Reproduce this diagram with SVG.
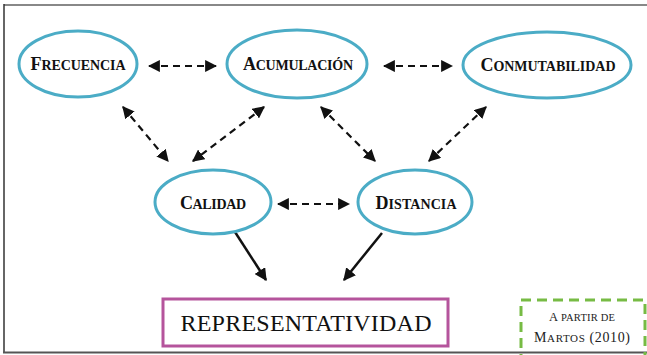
<svg xmlns="http://www.w3.org/2000/svg" width="647" height="355" viewBox="0 0 647 355">
<style>
.ell{fill:#fff;stroke:#4BACC6;stroke-width:3}
.lbl{font-family:"Liberation Serif","Times New Roman",serif;font-weight:bold;fill:#111;text-anchor:middle}
.big{font-size:18px}
.sm{font-size:14px}
.dash{stroke:#111;stroke-width:2.2;stroke-dasharray:7 5;fill:none;marker-start:url(#ah);marker-end:url(#ah)}
.solid{stroke:#111;stroke-width:2.5;fill:none;marker-end:url(#ah2)}
</style>
<defs>
<marker id="ah" viewBox="0 0 10 10" refX="9" refY="5" markerWidth="5.5" markerHeight="5.5" orient="auto-start-reverse" markerUnits="strokeWidth">
<path d="M0,0 L10,5 L0,10 z" fill="#111"/>
</marker>
<marker id="ah2" viewBox="0 0 10 10" refX="9" refY="5" markerWidth="5" markerHeight="5" orient="auto" markerUnits="strokeWidth">
<path d="M0,0 L10,5 L0,10 z" fill="#111"/>
</marker>
</defs>
<rect width="647" height="355" fill="#fff"/>
<g id="frame" fill="none">
<line x1="4" y1="5" x2="647" y2="5" stroke="#888" stroke-width="2"/>
<line x1="4" y1="4" x2="4" y2="353" stroke="#333" stroke-width="1.5"/>
<line x1="3" y1="352.5" x2="647" y2="352.5" stroke="#555" stroke-width="2"/>
</g>
<g id="connectors">
<line class="dash" x1="149" y1="66" x2="216" y2="66"/>
<line class="dash" x1="384" y1="66" x2="452" y2="66"/>
<line class="dash" x1="278" y1="204" x2="349" y2="204"/>
<line class="dash" x1="123" y1="107" x2="168" y2="161"/>
<line class="dash" x1="264" y1="107" x2="193" y2="161"/>
<line class="dash" x1="321" y1="107" x2="375" y2="161"/>
<line class="dash" x1="486" y1="107" x2="429" y2="161"/>
<line class="solid" x1="235" y1="232" x2="266" y2="280"/>
<line class="solid" x1="382" y1="233" x2="344" y2="280"/>
</g>
<g id="frecuencia">
<ellipse class="ell" cx="78" cy="64" rx="59" ry="33"/>
<text class="lbl" x="78" y="70" textLength="95"><tspan class="big">F</tspan><tspan class="sm">RECUENCIA</tspan></text>
</g>
<g id="acumulacion">
<ellipse class="ell" cx="297" cy="64" rx="70" ry="34"/>
<text class="lbl" x="298" y="70" textLength="110"><tspan class="big">A</tspan><tspan class="sm">CUMULACIÓN</tspan></text>
</g>
<g id="conmutabilidad">
<ellipse class="ell" cx="547" cy="65" rx="84" ry="33"/>
<text class="lbl" x="548" y="71" textLength="135"><tspan class="big">C</tspan><tspan class="sm">ONMUTABILIDAD</tspan></text>
</g>
<g id="calidad">
<ellipse class="ell" cx="213" cy="202" rx="58" ry="32"/>
<text class="lbl" x="213" y="209" textLength="66"><tspan class="big">C</tspan><tspan class="sm">ALIDAD</tspan></text>
</g>
<g id="distancia">
<ellipse class="ell" cx="415" cy="202" rx="57" ry="32"/>
<text class="lbl" x="416" y="209" textLength="81"><tspan class="big">D</tspan><tspan class="sm">ISTANCIA</tspan></text>
</g>
<g id="representatividad">
<rect x="163" y="299" width="285" height="47" fill="#fff" stroke="#B5549C" stroke-width="3"/>
<text x="306" y="331" font-family="'Liberation Serif','Times New Roman',serif" font-size="24" fill="#111" text-anchor="middle" textLength="251">REPRESENTATIVIDAD</text>
</g>
<g id="fuente">
<rect x="521" y="300" width="124" height="60" fill="none" stroke="#77BB44" stroke-width="3" stroke-dasharray="10 6"/>
<text x="582" y="321" font-family="'Liberation Serif','Times New Roman',serif" fill="#222" text-anchor="middle" textLength="66"><tspan font-size="12.5">A </tspan><tspan font-size="10.5">PARTIR DE</tspan></text>
<text x="582" y="342" font-family="'Liberation Serif','Times New Roman',serif" fill="#222" text-anchor="middle" textLength="96"><tspan font-size="14">M</tspan><tspan font-size="11">ARTOS</tspan><tspan font-size="14"> (2010)</tspan></text>
</g>
</svg>
